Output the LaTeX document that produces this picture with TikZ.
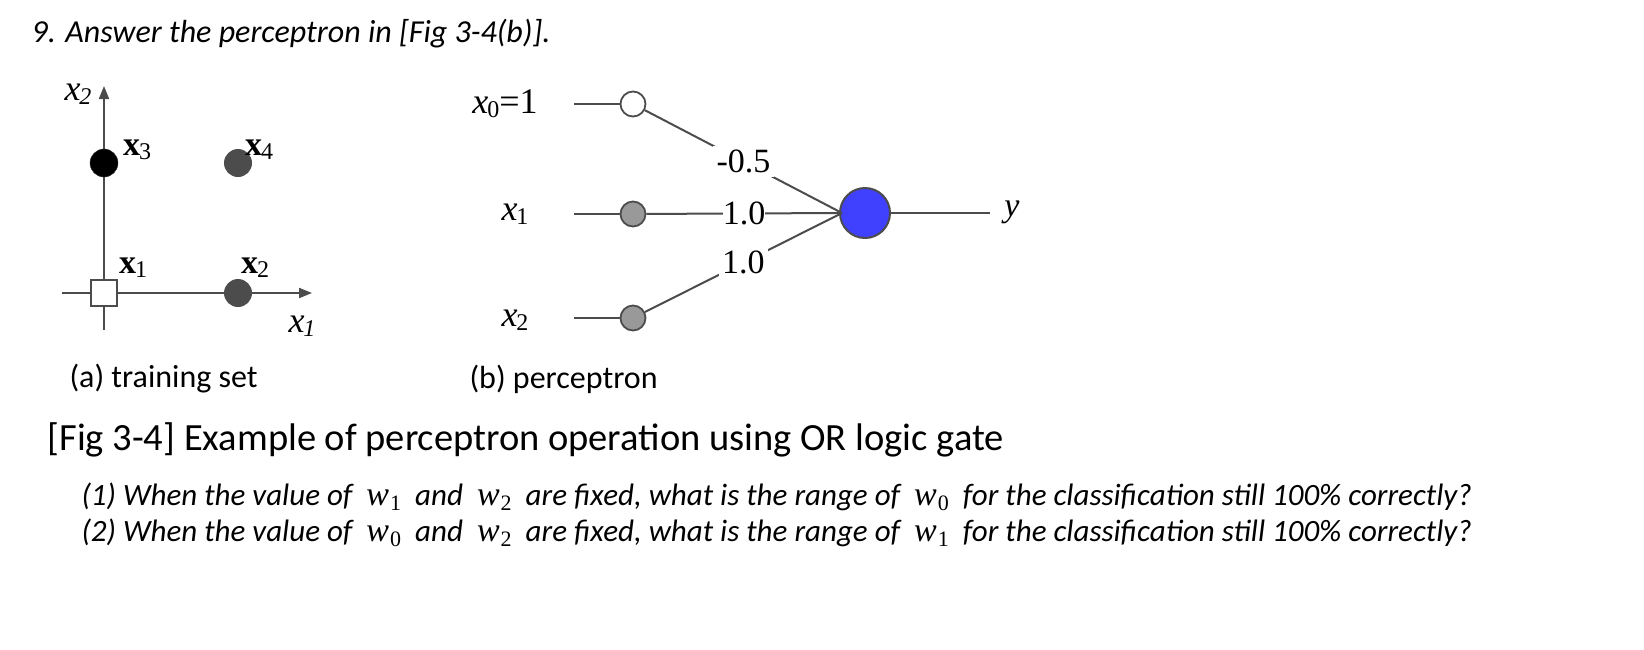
\documentclass[tikz,border=0pt]{standalone}
\usepackage{fontspec}
\setmainfont{Carlito}
\newfontfamily\tms{Liberation Serif}
\newfontfamily\cmb{DejaVu Serif}
\usetikzlibrary{arrows.meta}
\newcommand{\sbs}[1]{\kern-1pt\raisebox{-4pt}{\fontsize{24}{24}\selectfont #1}}
\newcommand{\wv}[1]{{\upshape\tms\itshape\fontsize{34}{34}\selectfont w\kern1pt\raisebox{-5pt}{\upshape\fontsize{22}{22}\selectfont #1}}}
\begin{document}
\begin{tikzpicture}[x=1pt,y=-1pt,
  ax/.style={draw=black!70,line width=2pt},
  lbl/.style={font=\tms\fontsize{34}{34}\selectfont},
  dot/.style={circle,draw=black!70,line width=1.8pt,minimum size=25pt,inner sep=0pt},
  wl/.style={font=\tms\fontsize{34}{34}\selectfont,fill=white,inner sep=1pt},
  captxt/.style={font=\fontsize{32}{32}\selectfont,anchor=west}]
\useasboundingbox (0,0) rectangle (1644,649);
\node[anchor=west,font=\itshape\fontsize{32}{32}\selectfont] (t) at (28,34) {9. Answer the perceptron in [Fig 3-4(b)].};
% plot
\coordinate (yb) at (104,330); \coordinate (yt) at (104,86);
\coordinate (xl) at (62,293); \coordinate (xr) at (312,293);
\draw[ax,-{Triangle[length=13pt,width=10pt]}] (yb) -- (yt);
\draw[ax,-{Triangle[length=13pt,width=10pt]}] (xl) -- (xr);
\node[circle,fill=black,draw=black!80,minimum size=28pt,inner sep=0pt] (p3) at (104,163) {};
\node[circle,fill=black!70,minimum size=28pt,inner sep=0pt] (p4) at (238,163) {};
\node[circle,fill=black!70,minimum size=28pt,inner sep=0pt] (p2) at (238,293) {};
\node[draw=black!70,fill=white,line width=1.8pt,minimum size=26pt,inner sep=0pt] (p1) at (104,293) {};
\node[lbl,font=\tms\itshape\fontsize{36}{36}\selectfont] (ax2) at (78,94) {x\sbs{2}};
\node[lbl,font=\tms\itshape\fontsize{36}{36}\selectfont] (ax1) at (302,326) {x\sbs{1}};
\node[lbl] (l3) at (137,150) {\textbf{x}\sbs{3}};
\node[lbl] (l4) at (259,150) {\textbf{x}\sbs{4}};
\node[lbl] (l1) at (133,268) {\textbf{x}\sbs{1}};
\node[lbl] (l2) at (255,268) {\textbf{x}\sbs{2}};
% perceptron
\node[dot,fill=white] (n0) at (633,104) {};
\node[dot,fill=black!40] (n1) at (633,214) {};
\node[dot,fill=black!40] (n2) at (633,318) {};
\node[circle,draw=black!70,line width=2pt,fill=blue!75!white,minimum size=50pt,inner sep=0pt] (out) at (865,213) {};
\node[lbl,font=\tms\fontsize{36}{36}\selectfont] (i0) at (505,104) {\textit{x}\sbs{0}=1};
\node[lbl,font=\tms\fontsize{36}{36}\selectfont] (i1) at (515,214) {\textit{x}\sbs{1}};
\node[lbl,font=\tms\fontsize{36}{36}\selectfont] (i2) at (515,320) {\textit{x}\sbs{2}};
\node[lbl] (yo) at (1012,212) {\textit{y}};
\coordinate (s0) at (574,104); \coordinate (s1) at (574,214); \coordinate (s2) at (574,318);
\coordinate (cv) at (842,213); \coordinate (ye) at (990,213);
\draw[ax] (s0) -- (n0); \draw[ax] (s1) -- (n1); \draw[ax] (s2) -- (n2);
\draw[ax] (n0) -- (cv) node[wl,pos=0.5,inner sep=4pt] (w0) {-0.5};
\draw[ax] (n1) -- (cv) node[wl,pos=0.5,inner sep=0pt] (w1) {1.0};
\draw[ax] (n2) -- (cv) node[wl,pos=0.5,inner sep=3pt] (w2) {1.0};
\draw[ax] (out) -- (ye);
% captions
\node[captxt] (ca) at (66,379) {(a) training set};
\node[captxt] (cb) at (466,379) {(b) perceptron};
\node[captxt,font=\fontsize{38.5}{38.5}\selectfont] (cc) at (44,440) {[Fig 3-4] Example of perceptron operation using OR logic gate};
\node[captxt,font=\itshape\fontsize{31}{31}\selectfont] (q1) at (78,497) {(1) When the value of \ \wv{1} \ and \ \wv{2} \ are fixed, what is the range of \ \wv{0} \ for the classification still 100\% correctly?};
\node[captxt,font=\itshape\fontsize{31}{31}\selectfont] (q2) at (78,533) {(2) When the value of \ \wv{0} \ and \ \wv{2} \ are fixed, what is the range of \ \wv{1} \ for the classification still 100\% correctly?};
\end{tikzpicture}
\end{document}
